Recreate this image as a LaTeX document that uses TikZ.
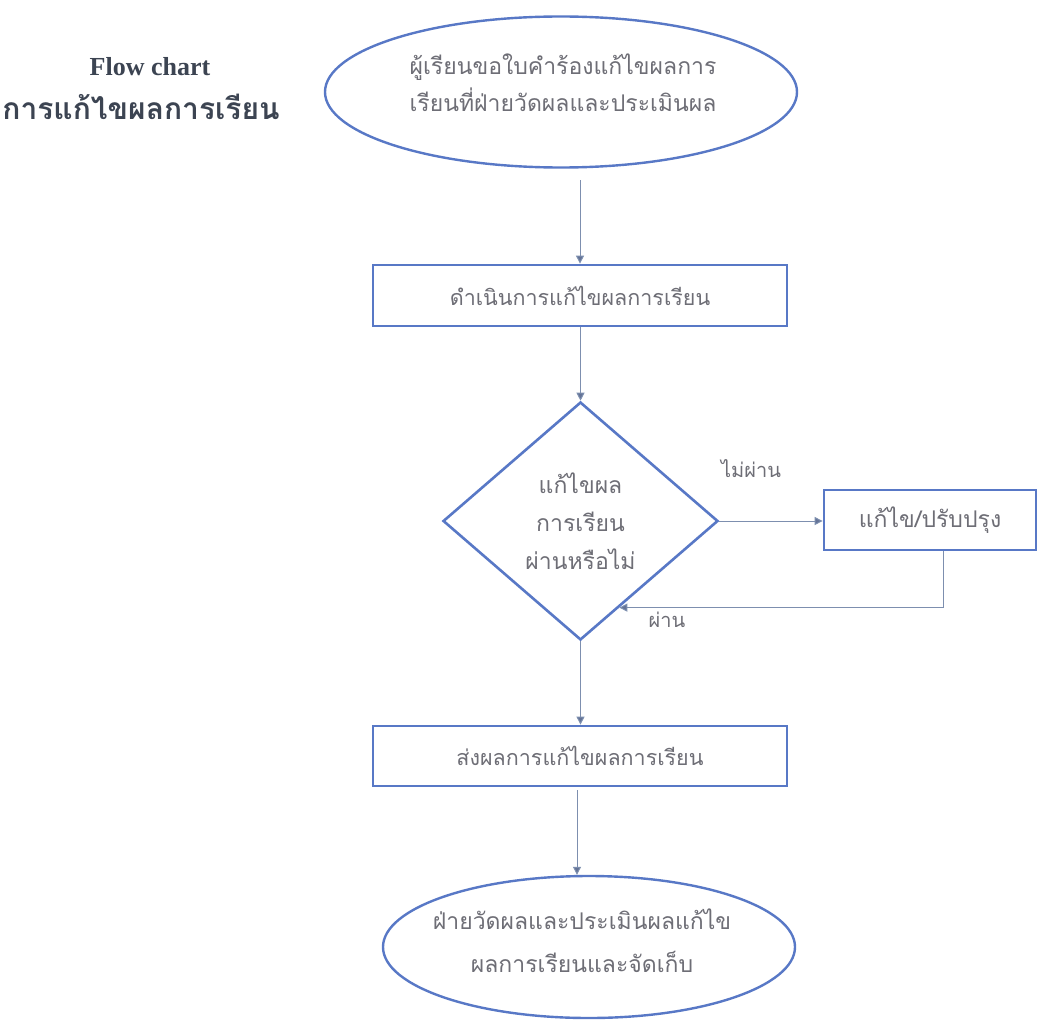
\documentclass[tikz,border=0pt]{standalone}
\usepackage{fontspec}
\setmainfont{Liberation Serif}
\newfontfamily\thai[Script=Thai]{Loma}
\usetikzlibrary{shapes.geometric,arrows.meta,calc}
\definecolor{shapeblue}{RGB}{88,120,198}
\definecolor{arrowblue}{RGB}{125,143,175}
\definecolor{tipblue}{RGB}{100,115,150}
\definecolor{txtgray}{RGB}{110,110,118}
\definecolor{titlegray}{RGB}{60,68,82}
\begin{document}
\begin{tikzpicture}[x=1pt,y=-1pt,
  thaitxt/.style={text=txtgray, align=center},
  term/.style={ellipse, draw=shapeblue, line width=2.4pt, inner sep=0pt},
  procbox/.style={rectangle, draw=shapeblue, line width=2.8pt, inner sep=0pt, thaitxt},
  decide/.style={diamond, draw=shapeblue, line width=2.6pt, inner sep=0pt, thaitxt},
  flow/.style={draw=arrowblue, line width=1pt, -{Triangle[length=8pt,width=8pt,fill=tipblue]}},
  lbl/.style={font=\thai\fontsize{20}{24}\selectfont, text=txtgray}
]
\useasboundingbox (0,0) rectangle (1038,1022);
\fill[white] (0,0) rectangle (1038,1022);

\node[font=\bfseries\fontsize{26}{30}\selectfont, text=titlegray] (t1) at (150,67) {Flow chart};
\node[font=\thai\bfseries\fontsize{30}{34}\selectfont, text=titlegray] (t2) at (141,107) {การแก้ไขผลการเรียน};

\node[term, minimum width=472pt, minimum height=151pt] (start) at (561,92) {};
\node[thaitxt, font=\thai\fontsize{23}{37}\selectfont] (startT) at (563,83)
  {ผู้เรียนขอใบคำร้องแก้ไขผลการ\\เรียนที่ฝ่ายวัดผลและประเมินผล};

\node[procbox, minimum width=414pt, minimum height=61pt, font=\thai\fontsize{21.5}{26}\selectfont] (b1) at (580,295.5)
  {ดำเนินการแก้ไขผลการเรียน};

\node[decide, minimum width=275pt, minimum height=238pt, font=\thai\fontsize{23}{38}\selectfont] (d) at (580.5,521)
  {แก้ไขผล\\การเรียน\\ผ่านหรือไม่};

\node[procbox, minimum width=212pt, minimum height=60pt, font=\thai\fontsize{23}{26}\selectfont] (b2) at (930,520)
  {แก้ไข/ปรับปรุง};

\node[procbox, minimum width=414pt, minimum height=60pt, font=\thai\fontsize{21.5}{26}\selectfont] (b3) at (580,756)
  {ส่งผลการแก้ไขผลการเรียน};

\node[term, minimum width=412pt, minimum height=142pt] (end) at (589,947) {};
\node[thaitxt, font=\thai\fontsize{23}{43}\selectfont] (endT) at (582,941)
  {ฝ่ายวัดผลและประเมินผลแก้ไข\\ผลการเรียนและจัดเก็บ};

\coordinate (a1s) at (580,180);
\draw[flow] (a1s) -- (a1s |- b1.north);
\draw[flow] (b1.south -| d.north) -- (d.north);
\draw[flow] (d.east) -- (d.east -| b2.west);
\node[lbl] (no) at (751,469) {ไม่ผ่าน};
\coordinate (ret) at ($(d.east)!0.72!(d.south)$);
\coordinate (b2drop) at ([xshift=13pt]b2.south);
\draw[flow] (b2drop) -- (b2drop |- ret) -- (ret);
\node[lbl] (yes) at (667,620) {ผ่าน};
\draw[flow] (d.south) -- (d.south |- b3.north);
\coordinate (a4s) at (577,790);
\draw[flow] (a4s) -- (a4s |- end.north);
\end{tikzpicture}
\end{document}
